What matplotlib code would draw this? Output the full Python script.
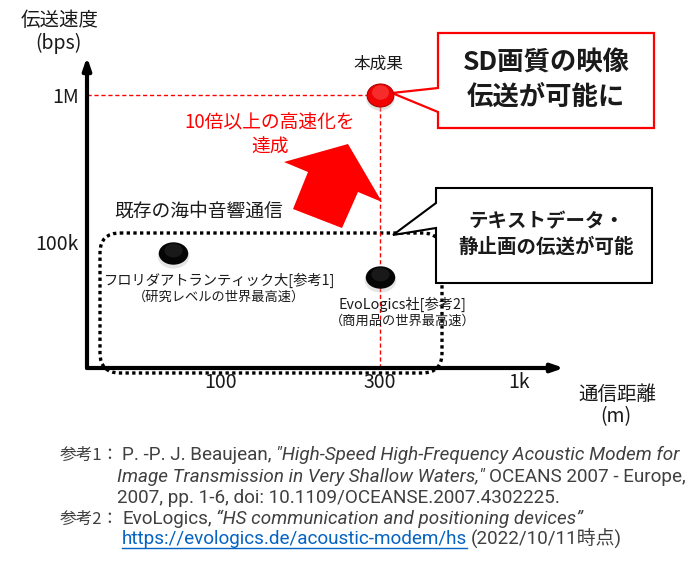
import numpy as np
import matplotlib
matplotlib.use('Agg')
import matplotlib.pyplot as plt
from matplotlib.path import Path
from matplotlib.patches import Polygon, FancyBboxPatch
from matplotlib.transforms import offset_copy

plt.rcParams['font.family'] = ['Noto Sans CJK JP', 'DejaVu Sans']

# ---- data ----
dist_ticks = [100, 300, 1000]
dist_labels = ['100', '300', '1k']
rate_ticks = [1e5, 1e6]
rate_labels = ['100k', '1M']

prev_names = ['フロリダアトランティック大[参考1]', 'EvoLogics社[参考2]']
prev_notes = ['（研究レベルの世界最高速）', '（商用品の世界最高速）']
prev_dist = [72, 300]        # m
prev_rate = [84000, 58000]   # bps

new_name = '本成果'
new_dist = 300
new_rate = 1e6

TXT = '#1a1a1a'
NOTE = '#404040'
LINK = '#0563c1'
LATIN = ['Roboto', 'Noto Sans CJK JP']

# schematic distance axis: log10, but stretched piecewise like the slide
KNOT_LOG = [0.0, 2.0, np.log10(300), 3.0, 5.0]
KNOT_POS = [134 - 2 * 333, 134, 293, 432, 432 + 2 * 266]


def fwd(x):
    x = np.clip(np.asarray(x, dtype=float), 1e-3, None)
    return np.interp(np.log10(x), KNOT_LOG, KNOT_POS)


def inv(p):
    return 10 ** np.interp(p, KNOT_POS, KNOT_LOG)


fig = plt.figure(figsize=(7, 5.63), dpi=100)

# pixel canvas for the slide decorations
bg = fig.add_axes([0, 0, 1, 1])
bg.set_xlim(0, 700)
bg.set_ylim(563, 0)
bg.axis('off')

ax = fig.add_axes([87 / 700, 1 - 368 / 563, 477 / 700, 311 / 563])
ax.patch.set_visible(False)
ax.set_xscale('function', functions=(fwd, inv))
ax.set_yscale('log')
ax.set_xlim(float(inv(0)), float(inv(477)))
ax.set_ylim(13900, 1.814e6)
for s in ax.spines.values():
    s.set_visible(False)
ax.set_xticks(dist_ticks, dist_labels)
ax.set_yticks(rate_ticks, rate_labels)
ax.minorticks_off()
ax.tick_params(length=0, labelsize=14, labelcolor=TXT)
ax.tick_params(axis='x', pad=3)
ax.tick_params(axis='y', pad=6)

# axis arrows
for tip in [(0, 1), (1, 0)]:
    ax.annotate('', xy=tip, xytext=(0, 0), xycoords='axes fraction',
                arrowprops=dict(arrowstyle='-|>,head_length=0.35,head_width=0.12',
                                lw=3, color='black', mutation_scale=20,
                                shrinkA=0, shrinkB=0),
                annotation_clip=False, zorder=5)

# red guide lines to the new result
x0 = ax.get_xlim()[0]
y0 = ax.get_ylim()[0]
ax.plot([x0, new_dist], [new_rate, new_rate], color='red', lw=1, ls=(0, (3, 2)), zorder=2)
ax.plot([new_dist, new_dist], [y0, new_rate], color='red', lw=1, ls=(0, (3, 2)), zorder=2)

# glossy elliptical dots
circ = Path.unit_circle()
oval = Path(circ.vertices * [1.0, 0.76], circ.codes)
red_oval = Path(circ.vertices * [1.0, 0.86], circ.codes)
shadow = offset_copy(ax.transData, fig=fig, x=0, y=-3, units='dots')
shine = offset_copy(ax.transData, fig=fig, x=0, y=3, units='dots')

ax.scatter(prev_dist, prev_rate, s=520, marker=oval, color='#aaaaaa', alpha=0.3,
           linewidths=0, transform=shadow, zorder=3)
ax.scatter(prev_dist, prev_rate, s=450, marker=oval, color='#050505', linewidths=0, zorder=4)
ax.scatter(prev_dist, prev_rate, s=170, marker=oval, color='#404040', alpha=0.35,
           linewidths=0, transform=shine, zorder=4)

ax.scatter([new_dist], [new_rate], s=420, marker=red_oval, color='#bbbbbb', alpha=0.4,
           linewidths=0, transform=shadow, zorder=3)
ax.scatter([new_dist], [new_rate], s=370, marker=red_oval, color='#f00000',
           edgecolors='#b00000', linewidths=0.8, zorder=4)
ax.scatter([new_dist], [new_rate], s=150, marker=red_oval, color='#ff6060', alpha=0.45,
           linewidths=0, transform=shine, zorder=4)

# labels of the points (the slide sets them a little right of each dot)
label_shift = [33, 16]
for d, r, name, note, dx in zip(prev_dist, prev_rate, prev_names, prev_notes, label_shift):
    ax.annotate(name, (d, r), xytext=(dx, -19.5), textcoords='offset points',
                ha='center', va='center', fontsize=10.3, color=TXT)
    ax.annotate(note, (d, r), xytext=(dx, -32), textcoords='offset points',
                ha='center', va='center', fontsize=9.5, color=TXT)
ax.annotate(new_name, (new_dist, new_rate), xytext=(-1, 22), textcoords='offset points',
            ha='center', va='center', fontsize=12, color=TXT)

# axis titles
bg.text(60, 20, '伝送速度', ha='center', va='center', fontsize=14, color=TXT)
bg.text(58, 43, '(bps)', ha='center', va='center', fontsize=14, color=TXT)
bg.text(617, 395, '通信距離', ha='center', va='center', fontsize=14, color=TXT)
bg.text(616, 417, '(m)', ha='center', va='center', fontsize=14, color=TXT)

# existing acoustic comms group
bg.add_patch(FancyBboxPatch((100, 233), 342, 140,
                            boxstyle='round,pad=0,rounding_size=20',
                            fill=False, ec='black', lw=2.4, ls=(0, (1, 1)), zorder=1))
bg.text(114, 211, '既存の海中音響通信', ha='left', va='center', fontsize=13.5, color=TXT)

# big red arrow + message
bg.add_patch(Polygon([(293, 209), (308, 172), (284, 162), (348, 144),
                      (382, 202), (358, 192), (342, 228)],
                     closed=True, fc='#ff0000', ec='none', zorder=2))
bg.text(270, 123, '10倍以上の高速化を', ha='center', va='center', fontsize=13.5, color='#ff0000')
bg.text(270, 147, '達成', ha='center', va='center', fontsize=13.5, color='#ff0000')

# callouts
bg.add_patch(Polygon([(438, 33), (654, 33), (654, 128), (438, 128), (438, 112),
                      (392, 93), (438, 88)],
                     closed=True, fc='white', ec='#ff0000', lw=1.6, zorder=3))
bg.text(546, 63, 'SD画質の映像', ha='center', va='center', fontsize=19,
        fontweight='bold', color=TXT, zorder=4)
bg.text(546, 97, '伝送が可能に', ha='center', va='center', fontsize=19,
        fontweight='bold', color=TXT, zorder=4)

bg.add_patch(Polygon([(436, 188), (652, 188), (652, 283), (436, 283), (436, 228),
                      (393, 235), (436, 203)],
                     closed=True, fc='white', ec='black', lw=1.5, zorder=3))
bg.text(546, 222, 'テキストデータ・', ha='center', va='center', fontsize=14,
        fontweight='bold', color=TXT, zorder=4)
bg.text(546, 247, '静止画の伝送が可能', ha='center', va='center', fontsize=14,
        fontweight='bold', color=TXT, zorder=4)

# references
renderer = fig.canvas.get_renderer()
ref1_a = [('P. -P. J. Beaujean,', 'n'),
          ('"High-Speed High-Frequency Acoustic Modem for', 'it')]
ref1_b = [('Image Transmission in Very Shallow Waters,"', 'it'),
          ('OCEANS 2007 - Europe,', 'n')]
ref1_c = [('2007, pp. 1-6, doi: 10.1109/OCEANSE.2007.4302225.', 'n')]
ref2_a = [('EvoLogics,', 'n'),
          ('“HS communication and positioning devices”', 'it')]
ref2_b = [('https://evologics.de/acoustic-modem/hs', 'link'),
          ('(2022/10/11時点)', 'n')]


def note_line(x, y, parts, size, draw=True):
    for txt, kind in parts:
        t = bg.text(x, y, txt, ha='left', va='center', fontsize=size,
                    family=LATIN, fontstyle='italic' if kind == 'it' else 'normal',
                    color=LINK if kind == 'link' else NOTE)
        w = t.get_window_extent(renderer).width
        if not draw:
            t.remove()
        elif kind == 'link':
            bg.plot([x, x + w], [y + 9, y + 9], color=LINK, lw=1)
        x += w + 4
    return x - 4


# pick one size so the two long reference lines fit the slide's right edge
base = 11
fit1 = (686 - 122) / (note_line(122, 455, ref1_a, base, draw=False) - 122)
fit2 = (686 - 117) / (note_line(117, 477, ref1_b, base, draw=False) - 117)
fs = base * min(fit1, fit2)

bg.text(60, 455, '参考1：', ha='left', va='center', fontsize=12, color=NOTE)
note_line(122, 455, ref1_a, fs)
note_line(117, 477, ref1_b, fs)
note_line(117, 498, ref1_c, fs)
bg.text(60, 519, '参考2：', ha='left', va='center', fontsize=12, color=NOTE)
note_line(122, 519, ref2_a, fs)
note_line(122, 539, ref2_b, fs)

fig.savefig('out.png', dpi=100)
